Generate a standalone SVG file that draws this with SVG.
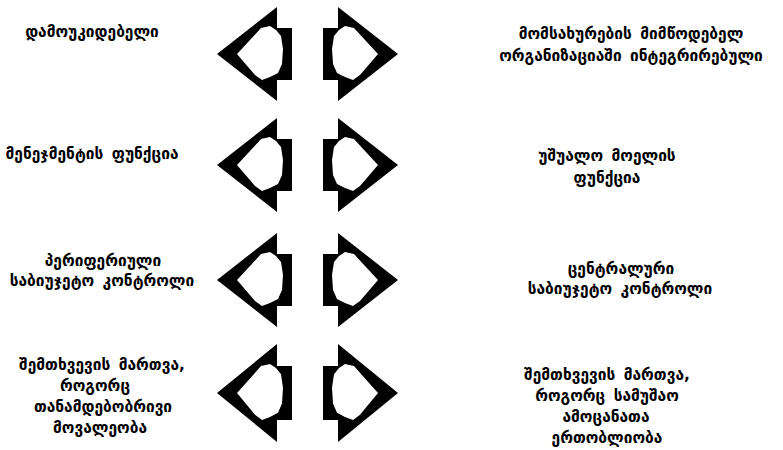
<svg xmlns="http://www.w3.org/2000/svg" xmlns:xlink="http://www.w3.org/1999/xlink" width="783" height="450" viewBox="0 0 783 450">
  <style>
    .lbl { font-family: "DejaVu Sans", "Noto Sans", sans-serif; font-weight: bold; font-size: 15.5px; fill: #000; text-anchor: middle; word-spacing: 3px; }
    .arr { fill: #000; fill-rule: evenodd; }
  </style>
  <defs>
    <path id="arrowL" class="arr" d="M217,0 L277,-47 L277,-26 L292,-26 L292,26 L277,26 L277,47 Z M237,0 L250,-14 L261,-26 L270,-28 L276,-24 L281,-18 L283,-5 L282,10 L278,19 L270,23 L262,26 L255,21 Z"/>
  </defs>
  <rect width="783" height="450" fill="#fff"/>

  <g id="connectors">
    <g id="arrow1L"><use xlink:href="#arrowL" transform="translate(0,54)"/></g>
    <g id="arrow1R"><use xlink:href="#arrowL" transform="translate(615,54) scale(-1,1)"/></g>
    <g id="arrow2L"><use xlink:href="#arrowL" transform="translate(0,165)"/></g>
    <g id="arrow2R"><use xlink:href="#arrowL" transform="translate(615,165) scale(-1,1)"/></g>
    <g id="arrow3L"><use xlink:href="#arrowL" transform="translate(0,280)"/></g>
    <g id="arrow3R"><use xlink:href="#arrowL" transform="translate(615,280) scale(-1,1)"/></g>
    <g id="arrow4L"><use xlink:href="#arrowL" transform="translate(0,393) scale(1,1.04)"/></g>
    <g id="arrow4R"><use xlink:href="#arrowL" transform="translate(615,393) scale(-1,1.04)"/></g>
  </g>

  <g id="n1L"><text class="lbl" x="92" y="37">დამოუკიდებელი</text></g>
  <g id="n1R">
    <text class="lbl" x="631" y="39">მომსახურების მიმწოდებელ</text>
    <text class="lbl" x="631" y="61">ორგანიზაციაში ინტეგრირებული</text>
  </g>

  <g id="n2L"><text class="lbl" x="92" y="159">მენეჯმენტის ფუნქცია</text></g>
  <g id="n2R">
    <text class="lbl" x="607" y="161">უშუალო მოელის</text>
    <text class="lbl" x="607" y="183">ფუნქცია</text>
  </g>

  <g id="n3L">
    <text class="lbl" x="103" y="266">პერიფერიული</text>
    <text class="lbl" x="102" y="286">საბიუჯეტო კონტროლი</text>
  </g>
  <g id="n3R">
    <text class="lbl" x="621" y="274">ცენტრალური</text>
    <text class="lbl" x="620" y="294">საბიუჯეტო კონტროლი</text>
  </g>

  <g id="n4L">
    <text class="lbl" x="102" y="370">შემთხვევის მართვა,</text>
    <text class="lbl" x="95" y="391">როგორც</text>
    <text class="lbl" x="103" y="412">თანამდებობრივი</text>
    <text class="lbl" x="100" y="433">მოვალეობა</text>
  </g>
  <g id="n4R">
    <text class="lbl" x="607" y="380">შემთხვევის მართვა,</text>
    <text class="lbl" x="607" y="401">როგორც სამუშაო</text>
    <text class="lbl" x="606" y="422">ამოცანათა</text>
    <text class="lbl" x="607" y="443">ერთობლიობა</text>
  </g>
</svg>
